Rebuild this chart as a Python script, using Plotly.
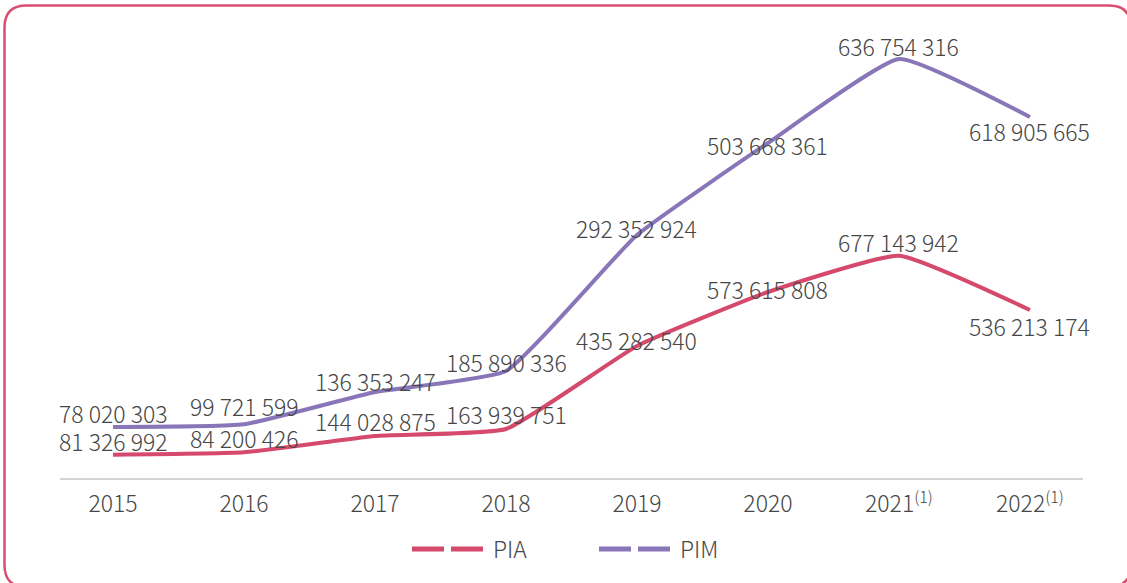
import plotly.graph_objects as go

# ---- data ----
years = ["2015", "2016", "2017", "2018", "2019", "2020", "2021<sup>(1)</sup>", "2022<sup>(1)</sup>"]
# plotted line heights
pia_plot = [35.0e6, 38.5e6, 63.0e6, 73.5e6, 198.0e6, 279.0e6, 333.5e6, 252.0e6]
pim_plot = [76.5e6, 80.5e6, 129.0e6, 160.5e6, 364.5e6, 502.5e6, 628.5e6, 541.5e6]
# data label values shown on the chart
pia_labels = [81326992, 84200426, 144028875, 163939751, 435282540, 573615808, 677143942, 536213174]
pim_labels = [78020303, 99721599, 136353247, 185890336, 292352924, 503668361, 636754316, 618905665]

# ---- style / layout helpers ----
W, H = 1127, 583
ML, MR, MT, MB = 60, 44, 20, 105
PW = W - ML - MR
PH = H - MT - MB
FONT = "Noto Sans CJK JP Light, Noto Sans CJK JP DemiLight, Noto Sans CJK JP, Roboto, sans-serif"
TXT = "#474747"
C_PIA = "#D5496C"
C_PIM = "#8876B9"
BORDER = "#D94F72"
FS = 23
pia_shift = [14, 14, 15, 15, 6, 3, 14, -16]
pim_shift = [14, 18, 11, 9, 7, -2, 13, -14]


def px(x):
    return (x - ML) / PW


def py(y):
    return (H - MB - y) / PH


def fmt(v):
    return f"{v:,}".replace(",", " ")


xs = list(range(len(years)))
fig = go.Figure()
fig.add_trace(go.Scatter(x=xs, y=pia_plot, mode="lines", name="PIA",
                         line=dict(color=C_PIA, width=4, shape="spline", smoothing=0.4),
                         showlegend=False, hoverinfo="skip"))
fig.add_trace(go.Scatter(x=xs, y=pim_plot, mode="lines", name="PIM",
                         line=dict(color=C_PIM, width=4, shape="spline", smoothing=0.4),
                         showlegend=False, hoverinfo="skip"))

annotations = []
for vals, labs, shifts in ((pia_plot, pia_labels, pia_shift), (pim_plot, pim_labels, pim_shift)):
    for i, (v, lab, s) in enumerate(zip(vals, labs, shifts)):
        annotations.append(dict(x=i, y=v, xref="x", yref="y", text=fmt(lab), showarrow=False,
                                xanchor="center", yanchor="middle", yshift=s,
                                font=dict(family=FONT, size=FS, color=TXT, weight=300)))

# legend (manual)
shapes = []
for name, col, x0 in (("PIA", C_PIA, 412), ("PIM", C_PIM, 599)):
    shapes.append(dict(type="line", xref="paper", yref="paper",
                       x0=px(x0), x1=px(x0 + 71), y0=py(549), y1=py(549),
                       line=dict(color=col, width=5, dash="32px,7px")))
    annotations.append(dict(x=px(x0 + 79), y=py(548), xref="paper", yref="paper", text=name,
                            showarrow=False, xanchor="left", yanchor="middle",
                            font=dict(family=FONT, size=FS, color=TXT, weight=300)))

# rounded border
L, R, T, B, r = 4.5, 1131, 5.5, 587, 22
pts = [
    ("M", (L + r, T)), ("L", (R - r, T)), ("Q", (R, T), (R, T + r)),
    ("L", (R, B - r)), ("Q", (R, B), (R - r, B)), ("L", (L + r, B)),
    ("Q", (L, B), (L, B - r)), ("L", (L, T + r)), ("Q", (L, T), (L + r, T)),
]
path = ""
for cmd, *ps in pts:
    path += cmd + " ".join(f"{px(a):.6f},{py(b):.6f}" for a, b in ps) + " "
path += "Z"
shapes.append(dict(type="path", xref="paper", yref="paper", path=path,
                   line=dict(color=BORDER, width=2.5), fillcolor="rgba(0,0,0,0)"))

fig.update_layout(
    width=W, height=H,
    margin=dict(l=ML, r=MR, t=MT, b=MB, pad=0),
    paper_bgcolor="white", plot_bgcolor="white",
    showlegend=False,
    xaxis=dict(range=[-0.405, len(years) - 1 + 0.405], tickmode="array", tickvals=xs, ticktext=years,
               showline=True, linecolor="#D4D4D4", linewidth=1.5, showgrid=False, zeroline=False,
               ticks="outside", ticklen=5, tickcolor="rgba(0,0,0,0)",
               tickfont=dict(family=FONT, size=FS, color=TXT, weight=300), fixedrange=True),
    yaxis=dict(range=[0, PH * 1.5e6], visible=False, showgrid=False, zeroline=False, fixedrange=True),
    annotations=annotations,
    shapes=shapes,
)

fig.write_html("out.html", config={"displayModeBar": False},
               post_script="document.body.style.margin='0';document.body.style.padding='0';")
